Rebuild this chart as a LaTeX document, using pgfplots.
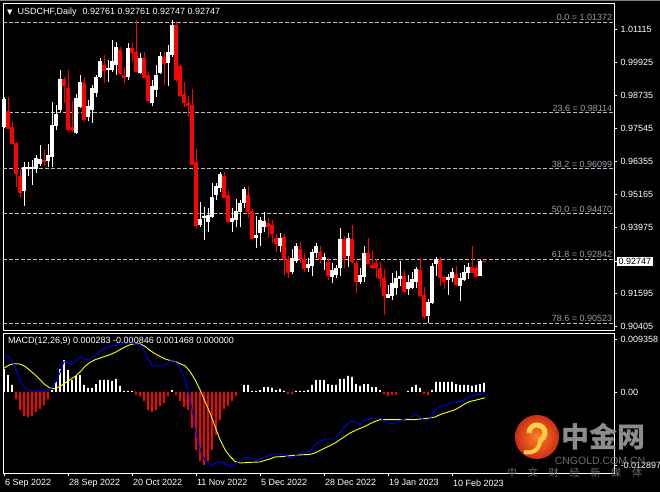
\documentclass[border=0pt]{standalone}
\usepackage{pgfplots}
\pgfplotsset{compat=1.18}
\usepackage{pgfplotstable}
\usepackage{fontspec}
\setmainfont{Liberation Sans}
\newfontfamily\dejavu{DejaVu Sans}
\newfontfamily\cjk{Noto Sans CJK SC}
\definecolor{fibline}{RGB}{190,190,190}
\definecolor{fibtext}{RGB}{150,160,175}
\definecolor{mtred}{RGB}{255,0,0}
\definecolor{mtblue}{RGB}{0,0,255}
\definecolor{mtyellow}{RGB}{255,255,0}
\definecolor{wm}{RGB}{140,140,140}
\definecolor{wmdark}{RGB}{110,110,110}
\definecolor{logoin}{RGB}{250,130,40}
\definecolor{logoout}{RGB}{205,45,20}
\definecolor{logoyel}{RGB}{255,205,70}

% bullish candles: index open high low close
\pgfplotstableread{
x o h l c
0 0.97599 0.98680 0.97563 0.98608
5 0.95292 0.96338 0.94752 0.96157
6 0.96085 0.96338 0.95833 0.96157
7 0.96085 0.96410 0.95509 0.96157
8 0.96085 0.96590 0.95941 0.96446
9 0.96265 0.96950 0.96193 0.96410
11 0.96374 0.96986 0.96157 0.96590
12 0.96518 0.98500 0.96157 0.97671
13 0.97635 0.98392 0.97491 0.98067
14 0.98212 0.99653 0.98140 0.99293
18 0.97383 0.98788 0.97347 0.98644
19 0.98320 0.99473 0.98284 0.99185
21 0.97959 0.98572 0.97815 0.98320
22 0.98212 0.99113 0.97743 0.99004
23 0.98824 0.99473 0.98680 0.99401
24 0.99401 1.00086 0.99365 0.99942
26 0.99653 1.00014 0.99221 0.99725
27 0.99653 1.00734 0.99581 0.99942
28 0.99833 1.00662 0.99473 1.00482
31 0.99401 1.00626 0.99293 1.00446
34 0.99545 1.00266 0.99509 1.00050
37 0.98464 0.99293 0.98356 0.99041
38 0.98932 0.99833 0.98680 0.99473
39 0.99545 1.00302 0.99509 1.00122
41 0.99905 1.00554 0.99077 1.00266
42 1.00194 1.01455 1.00122 1.01275
49 0.94067 0.94896 0.93995 0.94283
50 0.94319 0.94716 0.93526 0.94391
51 0.94175 0.94680 0.93815 0.94427
52 0.94355 0.95581 0.94319 0.95076
53 0.95148 0.95581 0.94968 0.95437
54 0.95400 0.95977 0.95256 0.95905
57 0.94175 0.94680 0.93815 0.94319
58 0.94247 0.95004 0.93995 0.94536
59 0.94536 0.94968 0.93995 0.94860
60 0.94860 0.95437 0.94680 0.95364
63 0.93598 0.94391 0.93238 0.93671
64 0.93779 0.94355 0.93310 0.94247
65 0.93995 0.94536 0.93815 0.94211
69 0.93310 0.93779 0.93094 0.93598
72 0.92373 0.93202 0.92301 0.92842
73 0.92770 0.93418 0.92697 0.93310
76 0.92517 0.92878 0.92373 0.92661
77 0.92589 0.93202 0.92229 0.93094
78 0.93058 0.93418 0.92878 0.93310
80 0.92806 0.93058 0.92445 0.92878
82 0.92193 0.92697 0.91977 0.92445
83 0.92265 0.92625 0.92157 0.92517
84 0.92517 0.93959 0.92229 0.93562
86 0.92950 0.93779 0.92553 0.93598
89 0.92013 0.92517 0.91941 0.92265
90 0.92193 0.93310 0.92013 0.93058
96 0.91436 0.91905 0.91436 0.91580
97 0.91508 0.92337 0.91364 0.91941
98 0.91796 0.92409 0.91544 0.92157
99 0.92121 0.92770 0.91869 0.92229
101 0.91760 0.92265 0.91544 0.92013
102 0.91796 0.92373 0.91760 0.92121
103 0.92013 0.92553 0.91796 0.92481
106 0.90787 0.91400 0.90535 0.91292
107 0.91256 0.92697 0.91220 0.92589
108 0.92661 0.92914 0.92229 0.92806
111 0.92085 0.92301 0.91544 0.92193
112 0.92157 0.92517 0.92013 0.92373
114 0.91869 0.92337 0.91328 0.92157
115 0.92085 0.92625 0.92049 0.92373
116 0.92337 0.92697 0.92121 0.92553
119 0.92229 0.92806 0.92229 0.92761
}\up

% bearish candles
\pgfplotstableread{
x o h l c
1 0.98176 0.98680 0.97527 0.97563
2 0.97599 0.97815 0.96950 0.97022
3 0.97022 0.97058 0.95437 0.95941
4 0.95833 0.96085 0.95076 0.95256
10 0.96410 0.96806 0.96193 0.96338
15 0.99329 0.99401 0.98464 0.99077
16 0.99004 0.99653 0.97419 0.97527
17 0.97599 0.98536 0.97419 0.97527
20 0.99185 0.99401 0.97779 0.97887
25 0.99833 1.00194 0.99185 0.99653
29 1.00374 1.00482 0.99509 0.99545
30 0.99473 0.99761 0.99185 0.99401
32 1.00446 1.00626 0.99942 1.00266
33 1.00302 1.01455 0.99581 0.99617
35 1.00086 1.00302 0.99365 0.99401
36 0.99473 0.99581 0.98500 0.98572
40 1.00122 1.00302 0.99113 0.99905
43 1.01275 1.01419 0.99221 0.99293
44 0.99797 0.99833 0.98680 0.98752
45 0.98788 0.99221 0.98320 0.98500
46 0.98464 0.98716 0.97959 0.98356
47 0.98392 0.98968 0.96229 0.96265
48 0.96338 0.96806 0.93959 0.94067
55 0.95833 0.95977 0.95040 0.95076
56 0.95148 0.95328 0.94139 0.94211
61 0.95148 0.95473 0.94319 0.94536
62 0.94572 0.94644 0.93562 0.93598
66 0.94139 0.94319 0.93598 0.94031
67 0.94067 0.94247 0.93418 0.93743
68 0.93598 0.93779 0.93094 0.93418
70 0.93635 0.93743 0.92265 0.92842
71 0.92842 0.92950 0.92157 0.92373
74 0.93202 0.93454 0.92697 0.92842
75 0.92842 0.93058 0.92373 0.92517
79 0.93094 0.93310 0.92697 0.92842
81 0.92734 0.92878 0.92085 0.92265
85 0.93562 0.93671 0.92517 0.92914
87 0.93562 0.94067 0.92697 0.92734
88 0.92697 0.92806 0.91616 0.92049
91 0.93058 0.93598 0.92661 0.92697
92 0.92625 0.93166 0.92517 0.92553
93 0.92697 0.92842 0.92157 0.92553
94 0.92517 0.92734 0.91833 0.92157
95 0.92157 0.92481 0.90823 0.91544
100 0.92229 0.92445 0.91616 0.91688
104 0.92445 0.92878 0.91472 0.91544
105 0.91544 0.91833 0.90679 0.90787
109 0.92806 0.92914 0.91869 0.92193
110 0.92193 0.92229 0.91760 0.92049
113 0.92301 0.92589 0.91869 0.91905
117 0.92553 0.93310 0.92337 0.92373
118 0.92517 0.92589 0.92193 0.92229
120 0.92761 0.92761 0.92747 0.92747
}\down

\begin{document}
\begin{tikzpicture}[x=1pt,y=1pt,font=\fontsize{9}{10.5}\selectfont]
\fill[black] (0,0) rectangle (660,-492);
\useasboundingbox (0,0) rectangle (660,-492);
\draw[gray, line width=0.8pt] (0,-0.6) -- (660,-0.6);

\pgfplotsset{mt/.style={
  scale only axis, width=611pt,
  axis line style={white, line width=0.8pt},
  tick style={white, line width=0.6pt},
  tick align=outside, major tick length=3pt,
  ytick pos=right, yticklabel pos=right,
  scaled ticks=false,
  ticklabel style={text=white, font=\fontsize{9}{10.5}\selectfont},
  xmin=-0.25, xmax=152.5, clip=false,
  /pgf/number format/assume math mode=true}}

% ---------------- price panel ----------------
\begin{axis}[mt, at={(3pt,-3pt)}, anchor=north west, height=327pt,
  ymin=0.90283, ymax=1.02068, xtick=\empty,
  ytick={1.01115,0.99925,0.98735,0.97545,0.96355,0.95165,0.93975,0.91595,0.90405},
  yticklabels={1.01115,0.99925,0.98735,0.97545,0.96355,0.95165,0.93975,0.91595,0.90405},
  extra y ticks={0.92747}, extra y tick labels={0.92747},
  extra y tick style={yticklabel style={fill=white, text=black, inner sep=1.5pt}}]

% Fibonacci levels
\addplot[fibline, dash pattern=on 3.5pt off 2.5pt, line width=0.7pt, forget plot] coordinates {(-0.25,1.01372) (152.5,1.01372)};
\addplot[fibline, dash pattern=on 3.5pt off 2.5pt, line width=0.7pt, forget plot] coordinates {(-0.25,0.98114) (152.5,0.98114)};
\addplot[fibline, dash pattern=on 3.5pt off 2.5pt, line width=0.7pt, forget plot] coordinates {(-0.25,0.96099) (152.5,0.96099)};
\addplot[fibline, dash pattern=on 3.5pt off 2.5pt, line width=0.7pt, forget plot] coordinates {(-0.25,0.94470) (152.5,0.94470)};
\addplot[fibline, dash pattern=on 3.5pt off 2.5pt, line width=0.7pt, forget plot] coordinates {(-0.25,0.92842) (152.5,0.92842)};
\addplot[fibline, dash pattern=on 3.5pt off 2.5pt, line width=0.7pt, forget plot] coordinates {(-0.25,0.90523) (152.5,0.90523)};
\node[anchor=south east, text=fibtext, inner sep=1.2pt] at (axis cs:152.4,1.01372) {0.0 = 1.01372};
\node[anchor=south east, text=fibtext, inner sep=1.2pt] at (axis cs:152.4,0.98114) {23.6 = 0.98114};
\node[anchor=south east, text=fibtext, inner sep=1.2pt] at (axis cs:152.4,0.96099) {38.2 = 0.96099};
\node[anchor=south east, text=fibtext, inner sep=1.2pt] at (axis cs:152.4,0.94470) {50.0 = 0.94470};
\node[anchor=south east, text=fibtext, inner sep=1.2pt] at (axis cs:152.4,0.92842) {61.8 = 0.92842};
\node[anchor=south east, text=fibtext, inner sep=1.2pt] at (axis cs:152.4,0.90523) {78.6 = 0.90523};

% wicks
\addplot[white, line width=1pt, mark=none, forget plot,
  quiver={u=0, v=\thisrow{h}-\thisrow{l}}]
  table[x=x, y=l] {\up};
\addplot[mtred, line width=1pt, mark=none, forget plot,
  quiver={u=0, v=\thisrow{h}-\thisrow{l}}]
  table[x=x, y=l] {\down};
% bodies
\addplot[white, line width=3.2pt, mark=none, forget plot,
  quiver={u=0, v=\thisrow{c}-\thisrow{o}}]
  table[x=x, y=o] {\up};
\addplot[mtred, line width=3.2pt, mark=none, forget plot,
  quiver={u=0, v=\thisrow{o}-\thisrow{c}}]
  table[x=x, y=c] {\down};
% minimum body thickness (doji)
\addplot[white, only marks, mark=-, mark size=1.6pt, mark options={line width=1pt, draw=white}, forget plot]
  table[x=x, y=c] {\up};
\addplot[mtred, only marks, mark=-, mark size=1.6pt, mark options={line width=1pt, draw=mtred}, forget plot]
  table[x=x, y=c] {\down};
\end{axis}

% ---------------- MACD panel ----------------
\begin{axis}[mt, at={(3pt,-333pt)}, anchor=north west, height=140pt,
  ymin=-0.01431, ymax=0.01042,
  xtick={0,16,32,48,64,80,96,112},
  xticklabels={6 Sep 2022,28 Sep 2022,20 Oct 2022,11 Nov 2022,5 Dec 2022,28 Dec 2022,19 Jan 2023,10 Feb 2023},
  xtick pos=bottom, xticklabel style={anchor=north west, xshift=-2.5pt},
  ytick={-0.012897,0,0.009358}, yticklabels={-0.012897,0.00,0.009358}]
\addplot[ybar, bar width=1.6pt, fill=white, draw=none, forget plot] coordinates {
(0,0.00406) (1,0.00300) (2,0.00124) (12,0.00035) (13,0.00177) (14,0.00406) (15,0.00565) (16,0.00389) (17,0.00212) (18,0.00283) (19,0.00300) (20,0.00124) (21,0.00071) (22,0.00071) (23,0.00141) (24,0.00212) (25,0.00212) (26,0.00212) (27,0.00194) (28,0.00230) (29,0.00106) (30,0.00018) (31,0.00018) (32,0.00018) (42,0.00035) (60,0.00124) (61,0.00124) (62,0.00018) (63,0.00018) (64,0.00035) (65,0.00088) (66,0.00088) (67,0.00071) (68,0.00035) (69,0.00053) (70,0.00018) (73,0.00018) (74,0.00018) (75,0.00018) (76,0.00035) (77,0.00124) (78,0.00212) (79,0.00212) (80,0.00212) (81,0.00141) (82,0.00124) (83,0.00124) (84,0.00230) (85,0.00230) (86,0.00283) (87,0.00265) (88,0.00141) (89,0.00106) (90,0.00141) (91,0.00141) (92,0.00088) (93,0.00088) (94,0.00035) (101,0.00018) (102,0.00088) (103,0.00124) (104,0.00071) (107,0.00035) (108,0.00177) (109,0.00177) (110,0.00177) (111,0.00177) (112,0.00177) (113,0.00141) (114,0.00124) (115,0.00124) (116,0.00124) (117,0.00106) (118,0.00124) (119,0.00141) (120,0.00159)};
\addplot[ybar, bar width=1.6pt, fill=mtred, draw=none, forget plot] coordinates {
(3,-0.00124) (4,-0.00318) (5,-0.00424) (6,-0.00442) (7,-0.00424) (8,-0.00353) (9,-0.00300) (10,-0.00230) (11,-0.00124) (33,-0.00053) (34,-0.00071) (35,-0.00159) (36,-0.00318) (37,-0.00353) (38,-0.00318) (39,-0.00247) (40,-0.00194) (41,-0.00071) (43,-0.00053) (44,-0.00159) (45,-0.00265) (46,-0.00318) (47,-0.00636) (48,-0.01024) (49,-0.01219) (50,-0.01289) (51,-0.01219) (52,-0.01024) (53,-0.00759) (54,-0.00494) (55,-0.00300) (56,-0.00247) (57,-0.00159) (58,-0.00071) (71,-0.00035) (72,-0.00035) (95,-0.00035) (96,-0.00071) (97,-0.00053) (98,-0.00053) (105,-0.00035) (106,-0.00053)};
\addplot[mtyellow, line width=0.9pt, forget plot] coordinates {
(0,0.00424) (1.5,0.00482) (2.75,0.00500) (4,0.00494) (5.25,0.00452) (6.5,0.00381) (7.75,0.00306) (9,0.00217) (10.25,0.00129) (11.5,0.00071) (12.75,0.00058) (14,0.00099) (15.25,0.00159) (16.5,0.00217) (17.75,0.00275) (19,0.00353) (20.25,0.00452) (21.5,0.00523) (22.75,0.00570) (24,0.00600) (25.25,0.00629) (26.5,0.00659) (27.75,0.00699) (29,0.00747) (30.25,0.00795) (31.5,0.00835) (32.75,0.00853) (34,0.00853) (35.25,0.00805) (36.5,0.00735) (37.75,0.00676) (39,0.00629) (40.25,0.00583) (41.5,0.00558) (42.75,0.00540) (44,0.00500) (45.25,0.00464) (46.5,0.00364) (47.75,0.00217) (49,0.00041) (50.25,-0.00166) (51.5,-0.00371) (52.75,-0.00608) (54,-0.00842) (55.25,-0.01019) (56.5,-0.01137) (57.75,-0.01226) (59,-0.01254) (61.5,-0.01243) (64,-0.01236) (65.25,-0.01208) (66.5,-0.01183) (67.75,-0.01148) (70.25,-0.01137) (71.5,-0.01125) (73.58,-0.01113) (76.5,-0.01102) (77.75,-0.01077) (79,-0.01031) (80.25,-0.00989) (81.5,-0.00948) (82.75,-0.00901) (84,-0.00842) (85.25,-0.00784) (86.5,-0.00724) (87.75,-0.00683) (89,-0.00643) (90.25,-0.00608) (91.5,-0.00560) (92.75,-0.00519) (94,-0.00489) (96.5,-0.00489) (99,-0.00489) (102.75,-0.00489) (104,-0.00477) (106.5,-0.00459) (107.75,-0.00442) (109,-0.00401) (110.25,-0.00371) (111.5,-0.00343) (112.75,-0.00313) (114,-0.00265) (115.25,-0.00207) (116.5,-0.00166) (117.75,-0.00148) (119,-0.00124) (120.25,-0.00101)};
\addplot[mtblue, line width=0.9pt, forget plot] coordinates {
(0,0.00659) (1.5,0.00600) (2.75,0.00452) (4,0.00187) (5.25,0.00070) (6.5,0.00023) (8.17,0.00011) (10.25,0.00011) (11.5,0.00041) (12.75,0.00159) (14,0.00336) (15,0.00540) (16.08,0.00512) (16.92,0.00482) (17.75,0.00540) (19,0.00618) (20.25,0.00570) (21.5,0.00583) (22.75,0.00641) (24,0.00717) (25.25,0.00777) (26.5,0.00805) (27.75,0.00818) (29,0.00835) (30.25,0.00853) (31.5,0.00865) (32.75,0.00853) (34,0.00835) (35,0.00747) (36.08,0.00570) (37.33,0.00452) (38.58,0.00464) (39.83,0.00464) (41.08,0.00512) (41.92,0.00570) (42.75,0.00540) (44,0.00424) (45.25,0.00217) (46.08,0.00011) (47.17,-0.00371) (48.17,-0.00784) (49.42,-0.01107) (50.67,-0.01254) (51.92,-0.01296) (53.17,-0.01254) (54.42,-0.01243) (55.67,-0.01284) (56.92,-0.01314) (58.17,-0.01254) (59.42,-0.01196) (60.25,-0.01155) (61.08,-0.01148) (62.33,-0.01196) (63.17,-0.01213) (64,-0.01183) (65.25,-0.01148) (66.5,-0.01107) (67.75,-0.01095) (69,-0.01090) (69.83,-0.01107) (71.08,-0.01155) (72.33,-0.01155) (73.58,-0.01090) (75.25,-0.01077) (76.5,-0.01049) (77.75,-0.00931) (79,-0.00872) (80.25,-0.00830) (82.75,-0.00830) (84,-0.00724) (85.25,-0.00608) (86.5,-0.00519) (87.75,-0.00519) (89,-0.00577) (90.25,-0.00489) (91.5,-0.00477) (92.75,-0.00459) (94,-0.00459) (95.25,-0.00519) (96.5,-0.00560) (97.75,-0.00547) (99,-0.00502) (100.25,-0.00477) (101.5,-0.00459) (102.75,-0.00401) (104,-0.00442) (105.25,-0.00502) (106.5,-0.00477) (107.75,-0.00313) (109,-0.00265) (110.25,-0.00242) (111.5,-0.00194) (112.75,-0.00184) (114,-0.00166) (115.25,-0.00136) (116.5,-0.00078) (117.75,-0.00060) (119,-0.00048) (120.25,0.00005)};
\end{axis}

% headers
\node[anchor=west, text=white, inner sep=0pt] at (7,-12) {{\dejavu\fontsize{7}{8}\selectfont ▼}\hspace{5pt}USDCHF,Daily\hspace{6pt}0.92761 0.92761 0.92747 0.92747};
\node[anchor=west, text=white, inner sep=0pt] at (8,-341.5) {MACD(12,26,9) 0.000283 -0.000846 0.001468 0.000000};

% watermark
\shade[inner color=logoin, outer color=logoout] (537,-437) circle (22);
\draw[line width=5pt, logoyel] (529,-433) arc[start angle=180, end angle=-70, radius=8];
\draw[line width=4pt, logoyel] (540,-440) .. controls (540,-450) and (532,-454) .. (524,-452);
\node[text=wm, inner sep=0pt] at (603,-437) {\cjk\fontsize{28}{30}\selectfont\bfseries 中金网};
\node[text=wmdark, inner sep=0pt] at (600,-461) {\fontsize{10.5}{12}\selectfont CNGOLD.COM.CN};
\node[text=wmdark, inner sep=0pt] at (574.5,-473) {\cjk\fontsize{10}{11}\selectfont\makebox[135pt][s]{中\hfill 文\hfill 财\hfill 经\hfill 新\hfill 媒\hfill 体}};
\end{tikzpicture}
\end{document}
